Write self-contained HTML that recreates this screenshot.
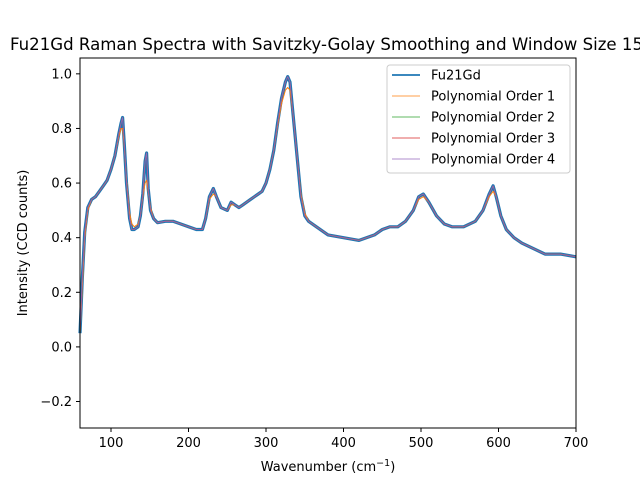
<!DOCTYPE html>
<html><head><meta charset="utf-8"><style>
body{margin:0;background:#fff}
text{font-family:"DejaVu Sans","Liberation Sans",sans-serif;fill:#000}
</style></head><body>
<svg id="chart" width="640" height="480" viewBox="0 0 640 480">
<rect width="640" height="480" fill="#fff"/>
<text x="10" y="50" font-size="16.6">Fu21Gd Raman Spectra with Savitzky-Golay Smoothing and Window Size 15</text>
<g id="series"></g>
<rect x="80" y="58" width="496" height="370" fill="none" stroke="#000" stroke-width="1"/>
<g id="ticks"></g>
<text x="328" y="471" font-size="13" text-anchor="middle">Wavenumber (cm<tspan dy="-5" font-size="9.5">−1</tspan><tspan dy="5">)</tspan></text>
<text transform="translate(27,243) rotate(-90)" font-size="13" text-anchor="middle">Intensity (CCD counts)</text>
<g>
<rect x="387" y="65" width="183" height="108" rx="3" fill="#fff" fill-opacity="0.8" stroke="#ccc"/>
<g id="legend-items"></g>
</g>
</svg>
<script>
const wavenumbers=[60,63,66,70,75,80,85,90,95,100,105,110,113,115,117,120,124,127,130,135,138,141,144,146,148,151,155,160,170,180,190,200,210,218,222,227,232,236,242,250,255,260,265,270,280,290,295,300,305,310,315,320,325,328,331,335,340,345,350,355,365,380,400,420,440,450,460,470,480,490,497,503,510,520,530,540,555,570,580,588,593,597,603,610,620,630,645,660,680,700];
const intensity=[0.05,0.25,0.42,0.51,0.54,0.55,0.57,0.59,0.61,0.65,0.70,0.78,0.82,0.84,0.75,0.60,0.47,0.43,0.43,0.44,0.48,0.56,0.68,0.71,0.58,0.50,0.47,0.455,0.46,0.46,0.45,0.44,0.43,0.43,0.47,0.55,0.58,0.55,0.51,0.50,0.53,0.52,0.51,0.52,0.54,0.56,0.57,0.60,0.65,0.72,0.82,0.91,0.97,0.99,0.97,0.85,0.70,0.55,0.48,0.46,0.44,0.41,0.40,0.39,0.41,0.43,0.44,0.44,0.46,0.50,0.55,0.56,0.53,0.48,0.45,0.44,0.44,0.46,0.50,0.56,0.59,0.55,0.48,0.43,0.40,0.38,0.36,0.34,0.34,0.33];
const order1Peaks=[0.05,0.22,0.40,0.50,0.54,0.55,0.57,0.59,0.61,0.65,0.70,0.77,0.80,0.80,0.74,0.61,0.49,0.45,0.44,0.45,0.48,0.55,0.60,0.61,0.57,0.51,0.47,0.455,0.46,0.46,0.45,0.44,0.43,0.43,0.47,0.54,0.56,0.55,0.51,0.50,0.52,0.52,0.51,0.52,0.54,0.56,0.57,0.60,0.65,0.72,0.81,0.89,0.94,0.95,0.94,0.85,0.70,0.56,0.49,0.46,0.44,0.41,0.40,0.39,0.41,0.43,0.44,0.44,0.46,0.50,0.54,0.55,0.53,0.48,0.45,0.44,0.44,0.46,0.50,0.55,0.57,0.55,0.48,0.43,0.40,0.38,0.36,0.34,0.34,0.33];
const xTicks=[100,200,300,400,500,600,700];
const yTicks=[-0.2,0.0,0.2,0.4,0.6,0.8,1.0];
const legendLabels=["Fu21Gd","Polynomial Order 1","Polynomial Order 2","Polynomial Order 3","Polynomial Order 4"];
const X0=60,X1=700,Y0=-0.297,Y1=1.058;
function xs(v){return 80+(v-X0)/(X1-X0)*496;}
function ys(v){return 428-(v-Y0)/(Y1-Y0)*370;}
const NS="http://www.w3.org/2000/svg";
function mk(tag,attrs,parent){const e=document.createElementNS(NS,tag);for(const k in attrs)e.setAttribute(k,attrs[k]);parent.appendChild(e);return e;}
function pathOf(vals){return vals.map((v,i)=>(i?"L":"M")+xs(wavenumbers[i]).toFixed(1)+","+ys(v).toFixed(1)).join("");}
const sg=document.getElementById("series");
const series=[
 {vals:intensity,color:"#1f77b4",w:3.2,name:"raw-spectrum-line"},
 {vals:order1Peaks,color:"#ff7f0e",w:1,name:"order1-line"},
 {vals:intensity,color:"#2ca02c",w:0.8,name:"order2-line"},
 {vals:intensity,color:"#d62728",w:0.8,name:"order3-line"},
 {vals:intensity,color:"#9467bd",w:0.8,name:"order4-line"}];
series.forEach(s=>{
 const p=mk("path",{d:pathOf(s.vals),fill:"none",stroke:s.color,"stroke-width":s.w,"stroke-linejoin":"round"},sg);
 
 
});
const tg=document.getElementById("ticks");
xTicks.forEach(t=>{
 const g=mk("g",{},tg);
 
 
 mk("line",{x1:xs(t),x2:xs(t),y1:428,y2:432,stroke:"#000"},g);
 const tx=mk("text",{x:xs(t),y:447,"font-size":13,"text-anchor":"middle"},g);tx.textContent=t;
});
yTicks.forEach(t=>{
 const g=mk("g",{},tg);
 
 
 mk("line",{x1:76,x2:80,y1:ys(t),y2:ys(t),stroke:"#000"},g);
 const tx=mk("text",{x:72,y:ys(t)+4.5,"font-size":13,"text-anchor":"end"},g);tx.textContent=(t<0?"−":"")+Math.abs(t).toFixed(1);
});
const lg=document.getElementById("legend-items");
legendLabels.forEach((l,i)=>{
 const g=mk("g",{},lg);
 
 
 const y=75+i*21;
 mk("line",{x1:392,x2:420,y1:y,y2:y,stroke:series[i].color,"stroke-width":i?0.8:1.8},g);
 const tx=mk("text",{x:431,y:y+4.5,"font-size":13},g);tx.textContent=l;
});
</script>
</body></html>
